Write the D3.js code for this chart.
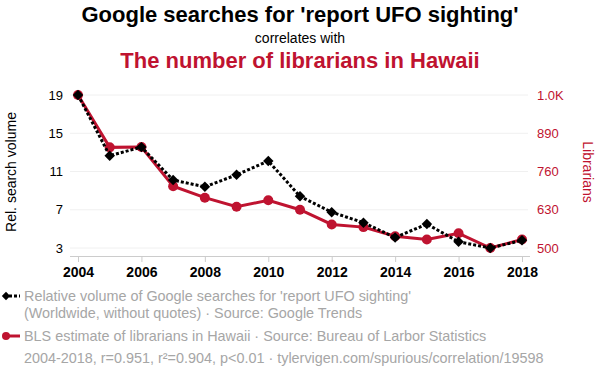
<!DOCTYPE html>
<html>
<head>
<meta charset="utf-8">
<script src="https://cdn.jsdelivr.net/npm/d3@7"></script>
<style>
  body { margin: 0; background: #fff; }
  svg { font-family: "Liberation Sans", Arial, sans-serif; }
</style>
</head>
<body>
<div id="chart"></div>
<script>
const years = [2004, 2005, 2006, 2007, 2008, 2009, 2010, 2011, 2012, 2013, 2014, 2015, 2016, 2017, 2018];
const searches = [19, 12.65, 13.55, 10.1, 9.4, 10.65, 12.1, 8.4, 6.75, 5.65, 4.1, 5.5, 3.65, 3.0, 3.8];
const librarians = [1020, 842, 843, 710, 671, 640, 662, 630, 580, 571, 540, 529, 550, 500, 529];
const leftTicks = [3, 7, 11, 15, 19];
const rightTicks = [500, 630, 760, 890, 1020];
const xTicks = [2004, 2006, 2008, 2010, 2012, 2014, 2016, 2018];

const red = "#bf1330";
const width = 600, height = 376;
const svg = d3.select("#chart").append("svg").attr("width", width).attr("height", height);

const x = d3.scaleLinear().domain([2004, 2018]).range([78, 522]);
const yL = d3.scaleLinear().domain([3, 19]).range([248, 95]);
const yR = d3.scaleLinear().domain([500, 1020]).range([248, 95]);

// titles
svg.append("text").attr("x", 300).attr("y", 22).attr("text-anchor", "middle")
  .style("font-size", "22px").style("font-weight", "bold").text("Google searches for 'report UFO sighting'");
svg.append("text").attr("x", 300).attr("y", 43).attr("text-anchor", "middle")
  .style("font-size", "14px").text("correlates with");
svg.append("text").attr("x", 300).attr("y", 68).attr("text-anchor", "middle")
  .style("font-size", "22px").style("font-weight", "bold").attr("fill", red)
  .text("The number of librarians in Hawaii");

// gridlines
svg.append("g").selectAll("line").data(leftTicks).join("line")
  .attr("x1", 70).attr("x2", 528)
  .attr("y1", d => yL(d)).attr("y2", d => yL(d))
  .attr("stroke", "#f0f0f0").attr("stroke-width", 1);

// x axis
const xAxis = svg.append("g").attr("transform", "translate(0,256)")
  .call(d3.axisBottom(x).tickValues(xTicks).tickFormat(d3.format("d")).tickSize(6).tickSizeOuter(0));
xAxis.select(".domain").attr("stroke", "#ccc").attr("d", "M70,0.5H530");
xAxis.selectAll(".tick line").attr("stroke", "#ccc");
xAxis.selectAll(".tick text").style("font-size", "14px").style("font-weight", "bold")
  .attr("fill", "#000").attr("dy", "0.85em");

// left axis labels
const yAxisL = svg.append("g").attr("transform", "translate(63,0)")
  .call(d3.axisLeft(yL).tickValues(leftTicks).tickSize(0).tickPadding(0));
yAxisL.select(".domain").remove();
yAxisL.selectAll(".tick text").style("font-size", "13px").attr("fill", "#000");

// right axis labels
const yAxisR = svg.append("g").attr("transform", "translate(537,0)")
  .call(d3.axisRight(yR).tickValues(rightTicks).tickSize(0).tickPadding(0)
    .tickFormat(d => d >= 1000 ? (d / 1000).toFixed(1) + "K" : d));
yAxisR.select(".domain").remove();
yAxisR.selectAll(".tick text").style("font-size", "13px").attr("fill", red);

svg.append("text").attr("transform", "translate(16,172) rotate(-90)").attr("text-anchor", "middle")
  .style("font-size", "14px").text("Rel. search volume");
svg.append("text").attr("transform", "translate(583,172) rotate(90)").attr("text-anchor", "middle")
  .style("font-size", "14px").attr("fill", red).text("Librarians");

// red series
const lineR = d3.line().x((d, i) => x(years[i])).y(d => yR(d));
svg.append("path").datum(librarians).attr("d", lineR)
  .attr("fill", "none").attr("stroke", red).attr("stroke-width", 3);
svg.append("g").selectAll("circle").data(librarians).join("circle")
  .attr("cx", (d, i) => x(years[i])).attr("cy", d => yR(d)).attr("r", 5).attr("fill", red);

// black series
const lineL = d3.line().x((d, i) => x(years[i])).y(d => yL(d));
svg.append("path").datum(searches).attr("d", lineL)
  .attr("fill", "none").attr("stroke", "#000").attr("stroke-width", 3).attr("stroke-dasharray", "3,2");
const diamond = d3.symbol().type(d3.symbolDiamond2).size(70);
svg.append("g").selectAll("path").data(searches).join("path")
  .attr("d", diamond).attr("transform", (d, i) => `translate(${x(years[i])},${yL(d)})`).attr("fill", "#000");

// legend
const grey = "#a6a6a6";
const legendFont = "14.4px";
svg.append("line").attr("x1", 4).attr("x2", 20).attr("y1", 296).attr("y2", 296)
  .attr("stroke", "#000").attr("stroke-width", 3).attr("stroke-dasharray", "3,2");
svg.append("path").attr("d", d3.symbol().type(d3.symbolDiamond2).size(45)).attr("transform", "translate(6,296)");
svg.append("text").attr("x", 24).attr("y", 301).style("font-size", legendFont).attr("fill", grey)
  .text("Relative volume of Google searches for 'report UFO sighting'");
svg.append("text").attr("x", 24).attr("y", 318).style("font-size", legendFont).attr("fill", grey)
  .text("(Worldwide, without quotes) · Source: Google Trends");

svg.append("line").attr("x1", 4).attr("x2", 20).attr("y1", 336).attr("y2", 336)
  .attr("stroke", red).attr("stroke-width", 3);
svg.append("circle").attr("cx", 6).attr("cy", 336).attr("r", 4).attr("fill", red);
svg.append("text").attr("x", 24).attr("y", 341).style("font-size", legendFont).attr("fill", grey)
  .text("BLS estimate of librarians in Hawaii · Source: Bureau of Larbor Statistics");
svg.append("text").attr("x", 24).attr("y", 363).style("font-size", legendFont).attr("fill", grey)
  .text("2004-2018, r=0.951, r²=0.904, p<0.01 · tylervigen.com/spurious/correlation/19598");
</script>
</body>
</html>
